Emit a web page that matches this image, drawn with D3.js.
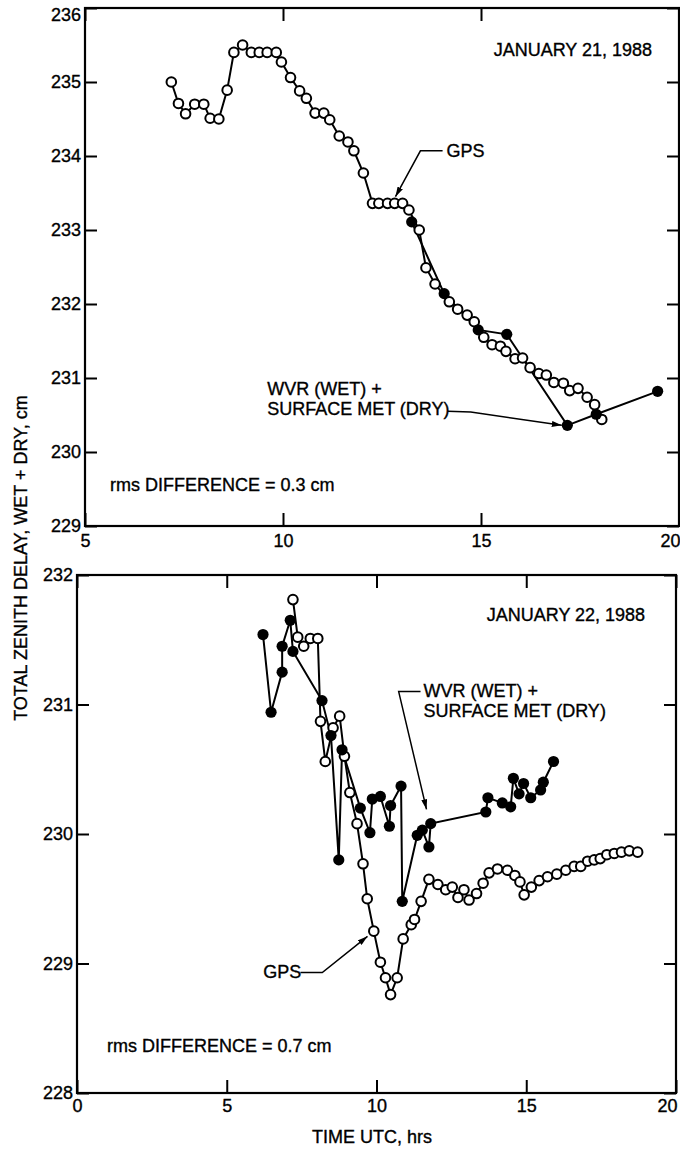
<!DOCTYPE html>
<html>
<head>
<meta charset="utf-8">
<script src="https://cdn.jsdelivr.net/npm/d3@7"></script>
<style>
  body { margin: 0; background: #fff; }
  svg text { font-family: "Liberation Sans", Arial, sans-serif; font-size: 18px; fill: #000; stroke: #000; stroke-width: 0.35px; }
</style>
</head>
<body>
<svg id="chart"></svg>
<script>
// total zenith delay, GPS vs WVR + surface met, two days

// January 21, 1988
var gps21Hours = [7.18, 7.36, 7.54, 7.77, 8.00, 8.16, 8.38, 8.59, 8.76, 8.98, 9.20, 9.40, 9.60, 9.83, 9.96,
  10.19, 10.42, 10.59, 10.81, 11.03, 11.18, 11.42, 11.64, 11.79, 12.03, 12.26, 12.42, 12.64, 12.82, 13.02,
  13.18, 13.44, 13.61, 13.84, 14.20, 14.41, 14.65, 14.83, 15.07, 15.28, 15.49, 15.63, 15.86, 16.05, 16.24,
  16.46, 16.65, 16.84, 17.08, 17.24, 17.45, 17.68, 17.87, 18.05];
var gps21Delay = [235.00, 234.71, 234.57, 234.70, 234.70, 234.51, 234.50, 234.89, 235.40, 235.50, 235.40, 235.40, 235.40, 235.40, 235.27,
  235.06, 234.88, 234.78, 234.58, 234.58, 234.49, 234.27, 234.19, 234.07, 233.77, 233.36, 233.36, 233.36, 233.36, 233.36,
  233.27, 233.00, 232.49, 232.27, 232.03, 231.93, 231.85, 231.76, 231.55, 231.45, 231.43, 231.36, 231.26, 231.27, 231.14,
  231.06, 231.04, 230.94, 230.93, 230.83, 230.86, 230.74, 230.64, 230.44];
var wvr21Hours = [13.25, 14.07, 14.93, 15.65, 17.18, 17.91, 19.46];
var wvr21Delay = [233.11, 232.14, 231.65, 231.59, 230.36, 230.51, 230.82];

// January 22, 1988
var gps22Hours = [7.21, 7.37, 7.57, 7.79, 8.04, 8.13, 8.29, 8.55, 8.77, 8.93, 9.11, 9.35, 9.55, 9.69, 9.91,
  10.13, 10.30, 10.47, 10.69, 10.89, 11.16, 11.27, 11.49, 11.75, 12.05, 12.31, 12.53, 12.72, 12.92, 13.09,
  13.34, 13.56, 13.76, 14.04, 14.37, 14.62, 14.79, 14.93, 15.17, 15.43, 15.71, 16.02, 16.32, 16.60, 16.82,
  17.05, 17.27, 17.47, 17.69, 17.94, 18.18, 18.44, 18.72];
var gps22Delay = [231.81, 231.52, 231.45, 231.51, 231.51, 230.87, 230.56, 230.82, 230.91, 230.60, 230.32, 230.08, 229.77, 229.50, 229.25,
  229.01, 228.89, 228.76, 228.89, 229.19, 229.30, 229.34, 229.48, 229.65, 229.61, 229.57, 229.59, 229.51, 229.57, 229.49,
  229.54, 229.62, 229.70, 229.73, 229.72, 229.68, 229.63, 229.53, 229.59, 229.64, 229.67, 229.69, 229.72, 229.75, 229.75,
  229.79, 229.80, 229.81, 229.84, 229.85, 229.86, 229.87, 229.86];
var wvr22Hours = [6.21, 6.48, 6.85, 6.85, 7.12, 7.21, 8.18, 8.48, 8.74, 8.85, 9.46, 9.78, 9.86, 10.13, 10.43,
  10.47, 10.82, 10.86, 11.36, 11.53, 11.75, 11.81, 13.65, 13.72, 14.20, 14.48, 14.57, 14.76, 14.91, 15.15,
  15.48, 15.57, 15.91];
var wvr22Delay = [231.54, 230.94, 231.25, 231.45, 231.65, 231.41, 231.03, 230.76, 229.80, 230.65, 230.20, 230.01, 230.27, 230.29, 230.06,
  230.22, 230.37, 229.48, 229.99, 230.03, 229.90, 230.08, 230.17, 230.28, 230.24, 230.21, 230.43, 230.31, 230.39, 230.28,
  230.34, 230.40, 230.56];

// tick values
var xTicks21 = [5, 10, 15, 20];
var yTicks21 = [229, 230, 231, 232, 233, 234, 235, 236];
var xTicks22 = [0, 5, 10, 15, 20];
var yTicks22 = [228, 229, 230, 231, 232];

var width = 680;
var height = 1151;

var svg = d3.select("#chart")
    .attr("width", width)
    .attr("height", height);

svg.append("defs").append("marker")
    .attr("id", "arrow")
    .attr("viewBox", "0 0 10 6")
    .attr("refX", 10)
    .attr("refY", 3)
    .attr("markerWidth", 10)
    .attr("markerHeight", 6)
    .attr("markerUnits", "userSpaceOnUse")
    .attr("orient", "auto")
  .append("path")
    .attr("d", "M0,0L10,3L0,6Z")
    .attr("fill", "#000");

function zip(xs, ys) {
  return xs.map(function(d, i) { return [d, ys[i]]; });
}

function drawPanel(p) {
  var x = d3.scaleLinear().domain(p.xDomain).range([p.left, p.right]);
  var y = d3.scaleLinear().domain(p.yDomain).range([p.bottom, p.top]);
  var g = svg.append("g");
  var fmt = d3.format("d");

  // inward ticks on all four sides
  var ax = [
    d3.axisLeft(y).tickValues(p.yTicks).tickFormat(fmt).tickSizeInner(-12).tickSizeOuter(0).tickPadding(4),
    d3.axisRight(y).tickValues(p.yTicks).tickSizeInner(-12).tickSizeOuter(0).tickFormat(""),
    d3.axisBottom(x).tickValues(p.xTicks).tickFormat(fmt).tickSizeInner(-13).tickSizeOuter(0).tickPadding(p.xPad),
    d3.axisTop(x).tickValues(p.xTicks).tickSizeInner(-13).tickSizeOuter(0).tickFormat("")
  ];
  var pos = ["translate(" + p.left + ",0)", "translate(" + p.right + ",0)",
             "translate(0," + p.bottom + ")", "translate(0," + p.top + ")"];
  ax.forEach(function(a, i) {
    var ga = g.append("g").attr("transform", pos[i]).call(a);
    ga.attr("font-size", null).attr("font-family", null);
    ga.select(".domain").remove();
    ga.selectAll("line").attr("stroke", "#000").attr("stroke-width", 2);
    ga.selectAll("text").attr("fill", "#000");
    if (i === 0) {
      // topmost y label would run off the page; nudge it down
      ga.selectAll(".tick text").filter(function(d) { return y(d) - 10 < 0; }).attr("y", 7);
    }
  });

  g.append("rect")
    .attr("x", p.left).attr("y", p.top)
    .attr("width", p.right - p.left).attr("height", p.bottom - p.top)
    .attr("fill", "none").attr("stroke", "#000").attr("stroke-width", 2.2);

  var line = d3.line().x(function(d) { return x(d[0]); }).y(function(d) { return y(d[1]); });
  var gps = zip(p.gpsX, p.gpsY);
  var wvr = zip(p.wvrX, p.wvrY);

  g.append("path").datum(gps).attr("d", line)
    .attr("fill", "none").attr("stroke", "#000").attr("stroke-width", 2);
  g.append("path").datum(wvr).attr("d", line)
    .attr("fill", "none").attr("stroke", "#000").attr("stroke-width", 2);

  g.selectAll(".gps").data(gps).enter().append("circle")
    .attr("cx", function(d) { return x(d[0]); })
    .attr("cy", function(d) { return y(d[1]); })
    .attr("r", 4.8)
    .attr("fill", "#fff").attr("stroke", "#000").attr("stroke-width", 2);
  g.selectAll(".wvr").data(wvr).enter().append("circle")
    .attr("cx", function(d) { return x(d[0]); })
    .attr("cy", function(d) { return y(d[1]); })
    .attr("r", 5.6)
    .attr("fill", "#000");

  // annotations, placed in data units
  p.labels.forEach(function(l) {
    g.append("text").attr("x", x(l[0])).attr("y", y(l[1])).text(l[2]);
  });
  p.leaders.forEach(function(pts) {
    g.append("path")
      .attr("d", line(pts))
      .attr("fill", "none").attr("stroke", "#000").attr("stroke-width", 1.5)
      .attr("marker-end", "url(#arrow)");
  });
  return g;
}

drawPanel({
  left: 85, right: 679, top: 8, bottom: 526, xPad: 8,
  xDomain: [5, 20], yDomain: [229, 236], xTicks: xTicks21, yTicks: yTicks21,
  gpsX: gps21Hours, gpsY: gps21Delay, wvrX: wvr21Hours, wvrY: wvr21Delay,
  labels: [[15.32, 235.35, "JANUARY 21, 1988"], [14.13, 233.99, "GPS"],
           [9.60, 230.77, "WVR (WET) +"], [9.60, 230.50, "SURFACE MET (DRY)"],
           [5.63, 229.47, "rms DIFFERENCE = 0.3 cm"]],
  leaders: [[[14.03, 234.07], [13.47, 234.07], [12.84, 233.45]],
            [[14.16, 230.55], [14.74, 230.54], [17.04, 230.36]]]
});

drawPanel({
  left: 77, right: 676, top: 575, bottom: 1093, xPad: 6,
  xDomain: [0, 20], yDomain: [228, 232], xTicks: xTicks22, yTicks: yTicks22,
  gpsX: gps22Hours, gpsY: gps22Delay, wvrX: wvr22Hours, wvrY: wvr22Delay,
  labels: [[13.68, 231.645, "JANUARY 22, 1988"], [11.57, 231.06, "WVR (WET) +"],
           [11.57, 230.90, "SURFACE MET (DRY)"], [6.22, 228.89, "GPS"],
           [1.0, 228.32, "rms DIFFERENCE = 0.7 cm"]],
  leaders: [[[11.47, 231.10], [10.74, 231.10], [11.67, 230.19]],
            [[7.46, 228.93], [8.19, 228.93], [9.70, 229.21]]]
});

// "20" labels hug the right frame
svg.selectAll(".tick text").filter(function(d) { return d === 20 && this.textContent === "20"; })
    .attr("text-anchor", "end").attr("x", 1);

svg.append("text")
    .attr("transform", "translate(27,558) rotate(-90)")
    .attr("text-anchor", "middle")
    .text("TOTAL ZENITH DELAY, WET + DRY, cm");

svg.append("text")
    .attr("x", 372)
    .attr("y", 1143)
    .attr("text-anchor", "middle")
    .text("TIME UTC, hrs");
</script>
</body>
</html>
